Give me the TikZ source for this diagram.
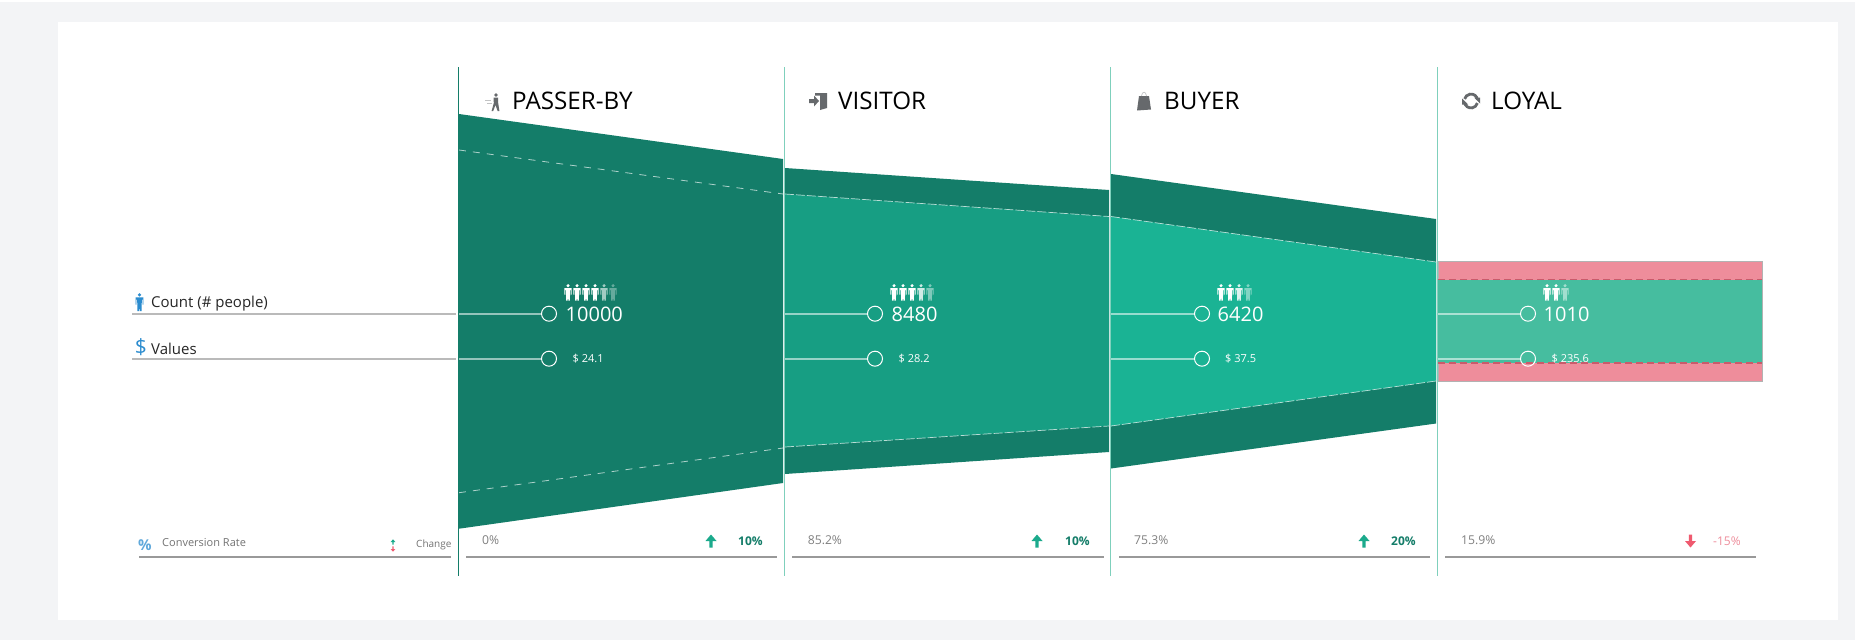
\documentclass[tikz,border=0pt]{standalone}
\usepackage{fontspec}
\setmainfont{Open Sans}
\usetikzlibrary{positioning}
\definecolor{pagegray}{HTML}{F3F4F6}
\definecolor{darkgreen}{HTML}{147D69}
\definecolor{midgreen}{HTML}{179E83}
\definecolor{brightgreen}{HTML}{1AB394}
\definecolor{loyalgreen}{HTML}{46BD9F}
\definecolor{lossred}{HTML}{EE8D9B}
\definecolor{dashred}{HTML}{C95B6B}
\definecolor{arrowred}{HTML}{EF5A6F}
\definecolor{arrowgreen}{HTML}{1BAA8C}
\definecolor{rulegreen}{HTML}{7FD0BC}
\definecolor{iconblue}{HTML}{2B8CCF}
\definecolor{icongray}{HTML}{66696C}
\tikzset{
	title/.style = {anchor = west, inner sep = 0pt, font = \fontsize{24.2}{26}\selectfont, text = black},
	rowlabel/.style = {anchor = west, inner sep = 0pt, font = \fontsize{15}{17}\selectfont, text = black!85},
	countlabel/.style = {anchor = west, inner sep = 0pt, font = \fontsize{20}{22}\selectfont, text = white},
	valuelabel/.style = {anchor = west, inner sep = 0pt, font = \fontsize{11}{12}\selectfont, text = white},
	ratelabel/.style = {anchor = west, inner sep = 0pt, font = \fontsize{12.2}{14}\selectfont, text = black!50},
	legendlabel/.style = {anchor = west, inner sep = 0pt, font = \fontsize{10}{12}\selectfont, text = black!55},
	gainlabel/.style = {anchor = west, inner sep = 0pt, font = \fontsize{12}{14}\bfseries\selectfont, text = darkgreen},
	losslabel/.style = {anchor = west, inner sep = 0pt, font = \fontsize{12}{14}\selectfont, text = lossred},
	blueicon/.style = {inner sep = 0pt, text = iconblue},
	dot/.style = {draw = white, circle, minimum size = 15pt, inner sep = 0pt, line width = 1pt},
	tick/.style = {draw = white, draw opacity = 0.55, line width = 2pt},
	labelrule/.style = {draw = black!27, line width = 2pt},
	raterule/.style = {draw = black!40, line width = 1.5pt},
	colrule/.style = {draw = rulegreen, line width = 0.9pt},
	seam/.style = {draw = white, draw opacity = 0.65, dashed, dash pattern = on 7pt off 7pt, line width = 0.8pt},
	fineseam/.style = {draw = white, draw opacity = 0.7, dash pattern = on 9pt off 2pt, line width = 0.7pt},
	redseam/.style = {draw = dashred, dash pattern = on 7pt off 4pt, line width = 1.2pt},
	person/.pic = {
		\fill (0,1.7) circle [radius = 1.7pt];
		\fill (-3.6,4) -- (3.6,4) -- (3.6,10.5) -- (2.8,10.5) -- (2.8,6) -- (2.1,6) -- (1.9,16.5) -- (0.35,16.5) -- (0,11) -- (-0.35,16.5) -- (-1.9,16.5) -- (-2.1,6) -- (-2.8,6) -- (-2.8,10.5) -- (-3.6,10.5) -- cycle;
	},
	uparrow/.pic = {
		\fill (0,-6.5) -- (5.5,0) -- (1.7,0) -- (1.7,6.5) -- (-1.7,6.5) -- (-1.7,0) -- (-5.5,0) -- cycle;
	},
	downarrow/.pic = {
		\fill (0,6.5) -- (5.5,0) -- (1.7,0) -- (1.7,-6.5) -- (-1.7,-6.5) -- (-1.7,0) -- (-5.5,0) -- cycle;
	},
	walker/.pic = {
		\fill[icongray] (1,-7) circle [radius = 1.8pt];
		\fill[icongray] (-1.5,-4.5) -- (3,-4.5) -- (3.2,1) -- (4.4,9) -- (2.6,9) -- (0.5,3) -- (-1.8,9) -- (-3.4,9) -- (-1.2,1) -- cycle;
		\draw[icongray!40, line width = 0.7pt] (-10,-2) -- (-4,-2) (-8,1) -- (-3,1);
	},
	doorin/.pic = {
		\fill[icongray] (-3,-8) -- (9,-8) -- (9,7) -- (2,9) -- (2,-5.5) -- (-3,-5.5) -- cycle;
		\fill[icongray] (-9,-2) -- (-4,-2) -- (-4,-5.5) -- (1,0) -- (-4,5.5) -- (-4,2) -- (-9,2) -- cycle;
	},
	bagicon/.pic = {
		\fill[icongray] (-5,-5) -- (5,-5) -- (7,8.5) -- (-7,9.5) -- cycle;
		\draw[icongray!40, line width = 0.7pt] (-2.5,-5) .. controls (-2,-10) and (2,-10) .. (2.5,-5);
	},
	refreshicon/.pic = {
		\draw[icongray, line width = 2.8pt] (6.5,-1.5) arc [start angle = 10, end angle = 165, radius = 6.6pt];
		\draw[icongray, line width = 2.8pt] (-6.5,1.5) arc [start angle = 190, end angle = 345, radius = 6.6pt];
		\fill[icongray] (9,-3.5) -- (3,-3.5) -- (9,2.5) -- cycle;
		\fill[icongray] (-9,3.5) -- (-3,3.5) -- (-9,-2.5) -- cycle;
	}
}
\begin{document}
\begin{tikzpicture}[x = 1pt, y = -1pt]
	\useasboundingbox (0,0) rectangle (1855,640);
	\fill[pagegray] (0,2) rectangle (1855,640);
	\fill[white] (58,22) rectangle (1838,620);

	% funnel
	\fill[darkgreen] (459,114) -- (783,159) -- (783,483) -- (459,528.7) -- cycle;
	\fill[darkgreen] (785,168) -- (1109,190) -- (1109,452) -- (785,474) -- cycle;
	\fill[midgreen] (785,194) -- (1109,216.5) -- (1109,426) -- (785,447) -- cycle;
	\fill[darkgreen] (1111,174) -- (1436,219) -- (1436,423.5) -- (1111,468.5) -- cycle;
	\fill[brightgreen] (1111,216.5) -- (1436,262) -- (1436,381) -- (1111,426) -- cycle;
	\fill[lossred, draw = black!30, line width = 0.5pt] (1438,261) rectangle (1762,381.7);
	\fill[loyalgreen] (1438,279.7) rectangle (1762,363);
	\draw[seam] (459,150) -- (783,194);
	\draw[seam] (459,492.7) -- (783,448);
	\draw[fineseam] (785,194) -- (1109,216.5);
	\draw[fineseam] (785,447) -- (1109,426);
	\draw[fineseam] (1111,216.5) -- (1436,262);
	\draw[fineseam] (1111,426) -- (1436,381);
	\draw[redseam] (1438,279.7) -- (1762,279.7);
	\draw[redseam] (1438,363) -- (1762,363);

	% column rules
	\coordinate (top1) at (458.5,67);
	\coordinate (bot1) at (458.5,575.7);
	\coordinate (top2) at (784,67);
	\coordinate (bot2) at (784,575.7);
	\coordinate (top3) at (1110.5,67);
	\coordinate (bot3) at (1110.5,575.7);
	\coordinate (top4) at (1437,67);
	\coordinate (bot4) at (1437,575.7);
	\draw[colrule, draw = darkgreen] (top1) -- (bot1);
	\draw[colrule] (top2) -- (bot2);
	\draw[colrule] (top3) -- (bot3);
	\draw[colrule] (top4) -- (bot4);

	% titles
	\pic at (495,102) {walker};
	\pic at (818,101) {doorin};
	\pic at (1144,101) {bagicon};
	\pic at (1471,101) {refreshicon};
	\node[title] (t1) at (512,100.5) {PASSER-BY};
	\node[title] (t2) at (838,100.5) {VISITOR};
	\node[title] (t3) at (1164,100.5) {BUYER};
	\node[title] (t4) at (1491,100.5) {LOYAL};

	% row labels
	\pic[iconblue, scale = 1.1] at (139.5,293) {person};
	\node[rowlabel] (cnt) at (151,304) {Count (\# people)};
	\node[blueicon, font = \fontsize{21}{23}\selectfont] (dol) at (141,347.5) {\$};
	\node[rowlabel] (val) at (151,349) {Values};
	\coordinate (cntl) at (132,313.7);
	\coordinate (cntr) at (456,313.7);
	\coordinate (vall) at (132,358.7);
	\coordinate (valr) at (456,358.7);
	\draw[labelrule] (cntl) -- (cntr);
	\draw[labelrule] (vall) -- (valr);

	% count and value markers
	\node[dot] (a1) at (549,313.7) {};
	\node[dot] (b1) at (549,358.7) {};
	\node[dot] (a2) at (875,313.7) {};
	\node[dot] (b2) at (875,358.7) {};
	\node[dot] (a3) at (1202,313.7) {};
	\node[dot] (b3) at (1202,358.7) {};
	\node[dot] (a4) at (1528,313.7) {};
	\node[dot] (b4) at (1528,358.7) {};
	\coordinate (la1) at (459,313.7);
	\coordinate (lb1) at (459,358.7);
	\coordinate (la2) at (785,313.7);
	\coordinate (lb2) at (785,358.7);
	\coordinate (la3) at (1111,313.7);
	\coordinate (lb3) at (1111,358.7);
	\coordinate (la4) at (1438,313.7);
	\coordinate (lb4) at (1438,358.7);
	\draw[tick] (la1) -- (a1);
	\draw[tick] (lb1) -- (b1);
	\draw[tick] (la2) -- (a2);
	\draw[tick] (lb2) -- (b2);
	\draw[tick] (la3) -- (a3);
	\draw[tick] (lb3) -- (b3);
	\draw[tick] (la4) -- (a4);
	\draw[tick] (lb4) -- (b4);
	\node[countlabel] (n1) at (565.5,314) {10000};
	\node[countlabel] (n2) at (891.5,314) {8480};
	\node[countlabel] (n3) at (1217.5,314) {6420};
	\node[countlabel] (n4) at (1543.5,314) {1010};
	\node[valuelabel] (v1) at (572.5,359) {\$ 24.1};
	\node[valuelabel] (v2) at (898.5,359) {\$ 28.2};
	\node[valuelabel] (v3) at (1225,359) {\$ 37.5};
	\node[valuelabel] (v4) at (1551.5,359) {\$ 235.6};

	% people
	\foreach \px/\po in {568/1,577/1,586/1,595/1,604/0.6,613/0.35} {\pic[white, opacity = \po] at (\px,284) {person};}
	\foreach \px/\po in {894/1,903/1,912/1,921/0.8,930/0.45} {\pic[white, opacity = \po] at (\px,284) {person};}
	\foreach \px/\po in {1221/1,1230/1,1239/0.85,1248/0.45} {\pic[white, opacity = \po] at (\px,284) {person};}
	\foreach \px/\po in {1547/1,1556/1,1565/0.5} {\pic[white, opacity = \po] at (\px,284) {person};}

	% bottom row
	\node[blueicon, font = \fontsize{15}{16}\bfseries\selectfont, text = iconblue!75] (pct) at (145,545) {\%};
	\node[legendlabel, font = \fontsize{11}{12}\selectfont] (conv) at (162,543) {Conversion Rate};
	\pic[arrowgreen, scale = 0.42] at (393,542) {uparrow};
	\pic[arrowred, scale = 0.42] at (393,549) {downarrow};
	\node[legendlabel] (chg) at (416,545) {Change};
	\node[ratelabel] (r1) at (482,540) {0\%};
	\node[ratelabel] (r2) at (807.6,540) {85.2\%};
	\node[ratelabel] (r3) at (1134,540) {75.3\%};
	\node[ratelabel] (r4) at (1461,540) {15.9\%};
	\pic[arrowgreen] at (711,541) {uparrow};
	\pic[arrowgreen] at (1037,541) {uparrow};
	\pic[arrowgreen] at (1364,541) {uparrow};
	\pic[arrowred] at (1690.5,541) {downarrow};
	\node[gainlabel] (g1) at (738,541) {10\%};
	\node[gainlabel] (g2) at (1065,541) {10\%};
	\node[gainlabel] (g3) at (1391,541) {20\%};
	\node[losslabel] (g4) at (1713,541) {-15\%};
	\coordinate (rl0) at (139,557);
	\coordinate (rr0) at (451,557);
	\coordinate (rl1) at (466,557);
	\coordinate (rr1) at (777,557);
	\coordinate (rl2) at (792,557);
	\coordinate (rr2) at (1104,557);
	\coordinate (rl3) at (1119,557);
	\coordinate (rr3) at (1430,557);
	\coordinate (rl4) at (1445,557);
	\coordinate (rr4) at (1756,557);
	\draw[raterule] (rl0) -- (rr0);
	\draw[raterule] (rl1) -- (rr1);
	\draw[raterule] (rl2) -- (rr2);
	\draw[raterule] (rl3) -- (rr3);
	\draw[raterule] (rl4) -- (rr4);
\end{tikzpicture}
\end{document}
